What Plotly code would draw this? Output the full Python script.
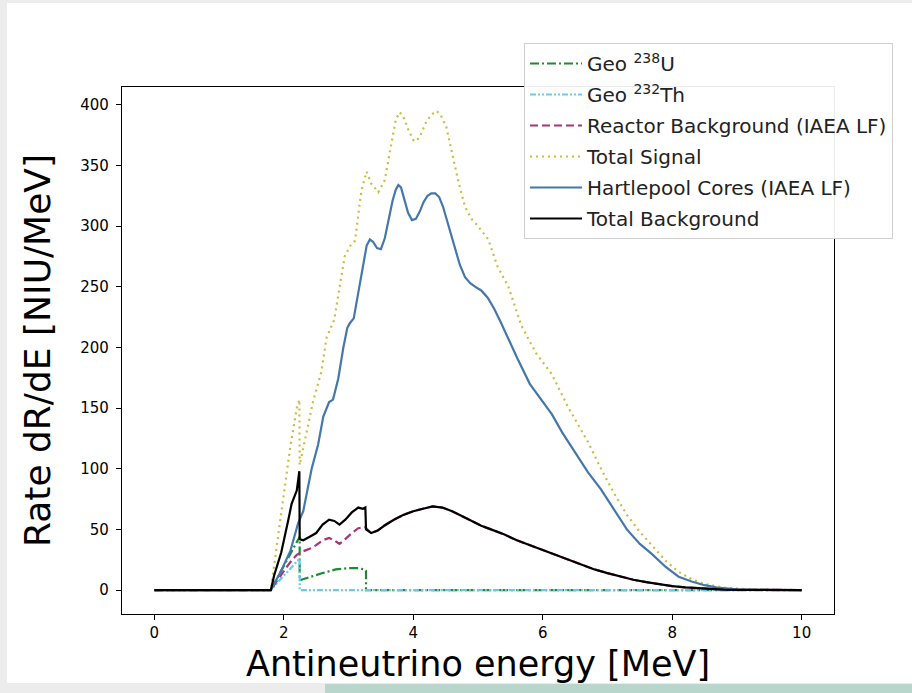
import plotly.graph_objects as go

# ---------------- data ----------------
geo_u_energy = [0.0, 1.8, 1.9, 2.0, 2.1, 2.2, 2.245, 2.245, 2.3, 2.4, 2.6, 2.8, 3.0, 3.15, 3.25, 3.27, 3.27, 10.0]
geo_u_rate   = [0.0, 0.0, 10, 20, 30, 40, 44, 8, 9, 11, 14, 17, 18, 18, 17, 16, 0.0, 0.0]

geo_th_energy = [0.0, 1.8, 1.9, 2.0, 2.1, 2.2, 2.245, 2.245, 10.0]
geo_th_rate   = [0.0, 0.0, 6, 12, 18, 24, 26, 0.0, 0.0]

reactor_bg_energy = [0.0, 1.8, 1.9, 2.0, 2.1, 2.2, 2.3, 2.4, 2.5, 2.6, 2.7, 2.78, 2.86, 2.95, 3.05, 3.15, 3.25,
                     3.35, 3.45, 3.55, 3.7, 3.85, 4.0, 4.15, 4.3, 4.45, 4.6, 4.75, 4.9, 5.05, 5.2, 5.4, 5.6,
                     5.8, 6.0, 6.2, 6.4, 6.6, 6.8, 7.0, 7.2, 7.4, 7.6, 7.8, 8.0, 8.2, 8.4, 8.6, 8.8, 9.0, 9.3, 10.0]
reactor_bg_rate   = [0.0, 0.0, 8, 16, 23, 29, 32, 34, 37, 41, 43, 41, 38, 42, 47, 51, 52,
                     47, 49, 53, 58, 62, 65, 67, 69, 68, 65, 61, 57, 53, 50, 46, 41,
                     37, 33, 29, 25, 21, 17, 14, 11, 8.5, 6.5, 4.8, 3.3, 2.2, 1.4, 0.8, 0.4, 0.2, 0.0, 0.0]

total_signal_energy = [0.0, 1.8, 1.9, 2.0, 2.1, 2.2, 2.24, 2.245, 2.35, 2.45, 2.58, 2.66, 2.78, 2.86, 2.94, 3.04,
                       3.1, 3.2, 3.28, 3.35, 3.46, 3.56, 3.66, 3.73, 3.79, 3.85, 3.92, 4.0, 4.05, 4.12, 4.2,
                       4.28, 4.36, 4.42, 4.51, 4.6, 4.7, 4.8, 4.9, 5.0, 5.16, 5.3, 5.47, 5.67, 5.9, 6.14,
                       6.4, 6.7, 6.9, 7.1, 7.3, 7.5, 7.7, 7.9, 8.1, 8.3, 8.5, 8.8, 9.2, 10.0]
total_signal_rate   = [0.0, 0.0, 40, 80, 118, 150, 157, 103, 130, 155, 180, 208, 223, 250, 275, 285,
                       288, 330, 345, 335, 328, 338, 369, 388, 394, 390, 380, 371, 370, 376, 386,
                       392, 395, 392, 382, 360, 336, 316, 306, 300, 289, 267, 250, 218, 195, 178,
                       150, 122, 100, 80, 62, 48, 36, 24, 15, 9, 5, 2, 0.5, 0.0]

hartlepool_energy = [0.0, 1.8, 1.95, 2.1, 2.22, 2.3, 2.43, 2.53, 2.61, 2.66, 2.7, 2.76, 2.84, 2.92, 2.98, 3.02,
                     3.08, 3.15, 3.22, 3.28, 3.33, 3.38, 3.44, 3.5, 3.56, 3.62, 3.68, 3.73, 3.77, 3.81,
                     3.86, 3.92, 3.98, 4.04, 4.1, 4.16, 4.22, 4.28, 4.34, 4.4, 4.46, 4.52, 4.58, 4.65,
                     4.72, 4.8, 4.88, 4.96, 5.05, 5.15, 5.25, 5.35, 5.47, 5.6, 5.8, 6.0, 6.14, 6.3,
                     6.5, 6.7, 6.9, 7.1, 7.3, 7.5, 7.68, 7.9, 8.1, 8.3, 8.5, 8.7, 9.0, 9.3, 10.0]
hartlepool_rate   = [0.0, 0.0, 15, 32, 55, 65, 100, 120, 143, 150, 155, 157, 174, 200, 216, 220,
                     224, 245, 268, 284, 289, 287, 282, 281, 290, 306, 321, 330, 334, 332,
                     323, 311, 305, 306, 312, 320, 325, 327, 327, 324, 316, 305, 292, 279,
                     268, 258, 253, 250, 247, 241, 232, 221, 207, 192, 170, 155, 145, 130,
                     113, 97, 83, 66, 50, 38, 30, 19, 11, 7, 4, 2, 0.5, 0.1, 0.0]

total_bg_energy = [0.0, 1.8, 1.85, 1.96, 2.07, 2.12, 2.2, 2.24, 2.245, 2.3, 2.4, 2.5, 2.6, 2.7, 2.78, 2.86,
                   2.95, 3.05, 3.15, 3.22, 3.26, 3.27, 3.35, 3.45, 3.55, 3.7, 3.85, 4.0, 4.15, 4.3, 4.45,
                   4.6, 4.75, 4.9, 5.05, 5.2, 5.4, 5.6, 5.8, 6.0, 6.2, 6.4, 6.6, 6.8, 7.0, 7.2, 7.4, 7.6,
                   7.8, 8.0, 8.2, 8.4, 8.6, 8.8, 9.0, 9.3, 10.0]
total_bg_rate   = [0.0, 0.0, 12, 31, 58, 71, 82, 98, 42, 41, 44, 47, 54, 58, 57, 54,
                   58, 64, 68, 67, 68, 50, 47, 49, 53, 58, 62, 65, 67, 69, 68,
                   65, 61, 57, 53, 50, 46, 41, 37, 33, 29, 25, 21, 17, 14, 11, 8.5, 6.5,
                   4.8, 3.3, 2.2, 1.4, 0.8, 0.4, 0.2, 0.0, 0.0]

x_ticks = [0, 2, 4, 6, 8, 10]
y_ticks = [0, 50, 100, 150, 200, 250, 300, 350, 400]

# ---------------- figure ----------------
W, H = 912, 693
L, R, T, B = 122, 834, 87, 614
pw, ph = R - L, B - T

FONT = "DejaVu Sans"
lw = 2.2

fig = go.Figure()
fig.add_trace(go.Scatter(x=geo_u_energy, y=geo_u_rate, mode="lines", name="Geo <sup>238</sup>U",
                         legendgroup="a", line=dict(color="#228833", width=lw, dash="9px,3px,2px,3px")))
fig.add_trace(go.Scatter(x=geo_th_energy, y=geo_th_rate, mode="lines", name="Geo <sup>232</sup>Th",
                         legendgroup="b", line=dict(color="#66CCEE", width=lw,
                                                    dash="6px,2px,2px,2px,2px,2px")))
fig.add_trace(go.Scatter(x=reactor_bg_energy, y=reactor_bg_rate, mode="lines",
                         name="Reactor Background (IAEA LF)", legendgroup="c",
                         line=dict(color="#AA3377", width=lw, dash="8px,4px")))
fig.add_trace(go.Scatter(x=total_signal_energy, y=total_signal_rate, mode="lines", name="Total Signal",
                         legendgroup="d", line=dict(color="#CCBB44", width=lw, dash="2px,4px")))
fig.add_trace(go.Scatter(x=hartlepool_energy, y=hartlepool_rate, mode="lines",
                         name="Hartlepool Cores (IAEA LF)", legendgroup="e",
                         line=dict(color="#4477AA", width=lw)))
fig.add_trace(go.Scatter(x=total_bg_energy, y=total_bg_rate, mode="lines", name="Total Background",
                         legendgroup="f", line=dict(color="black", width=lw)))

# screenshot framing: grey border around a white page
shapes = [
    dict(type="rect", xref="paper", yref="paper", layer="below",
         x0=(7 - L) / pw, x1=(W - L) / pw, y0=(B - 683) / ph, y1=(B - 3) / ph,
         fillcolor="white", line=dict(width=0)),
    dict(type="rect", xref="paper", yref="paper", layer="below",
         x0=(325 - L) / pw, x1=(W - L) / pw, y0=(B - H) / ph, y1=(B - 684) / ph,
         fillcolor="#b9d6cc", line=dict(width=0)),
]

axis_common = dict(showline=True, linecolor="black", linewidth=1.2, mirror=True,
                   ticks="outside", ticklen=5, tickwidth=1.2, tickcolor="black",
                   showgrid=False, zeroline=False,
                   tickfont=dict(family=FONT, size=15, color="black"))

fig.update_layout(
    width=W, height=H,
    margin=dict(l=L, r=W - R, t=T, b=H - B, autoexpand=False),
    paper_bgcolor="#ececec", plot_bgcolor="white",
    font=dict(family=FONT, color="black"),
    shapes=shapes,
    xaxis=dict(range=[-0.5, 10.5], tickvals=x_ticks, ticktext=[str(v) for v in x_ticks],
               title=dict(text="Antineutrino energy [MeV]", font=dict(family=FONT, size=35), standoff=10),
               automargin=False, **axis_common),
    yaxis=dict(range=[-19.75, 414.75], tickvals=y_ticks, ticktext=[str(v) for v in y_ticks],
               title=dict(text="Rate dR/dE [NIU/MeV]", font=dict(family=FONT, size=36), standoff=18),
               automargin=False, ticklabelstandoff=4, **axis_common),
    legend=dict(xref="container", yref="container", x=524 / W, y=1 - 43 / H,
                xanchor="left", yanchor="top", bgcolor="rgba(255,255,255,0.92)",
                bordercolor="#d0d0d0", borderwidth=1, traceorder="grouped", tracegroupgap=2,
                font=dict(family=FONT, size=20, color="#222"), itemwidth=52),
    showlegend=True,
)

fig.write_html("out.html", config={"displayModeBar": False},
               post_script="document.body.style.margin='0';document.body.style.padding='0';")
